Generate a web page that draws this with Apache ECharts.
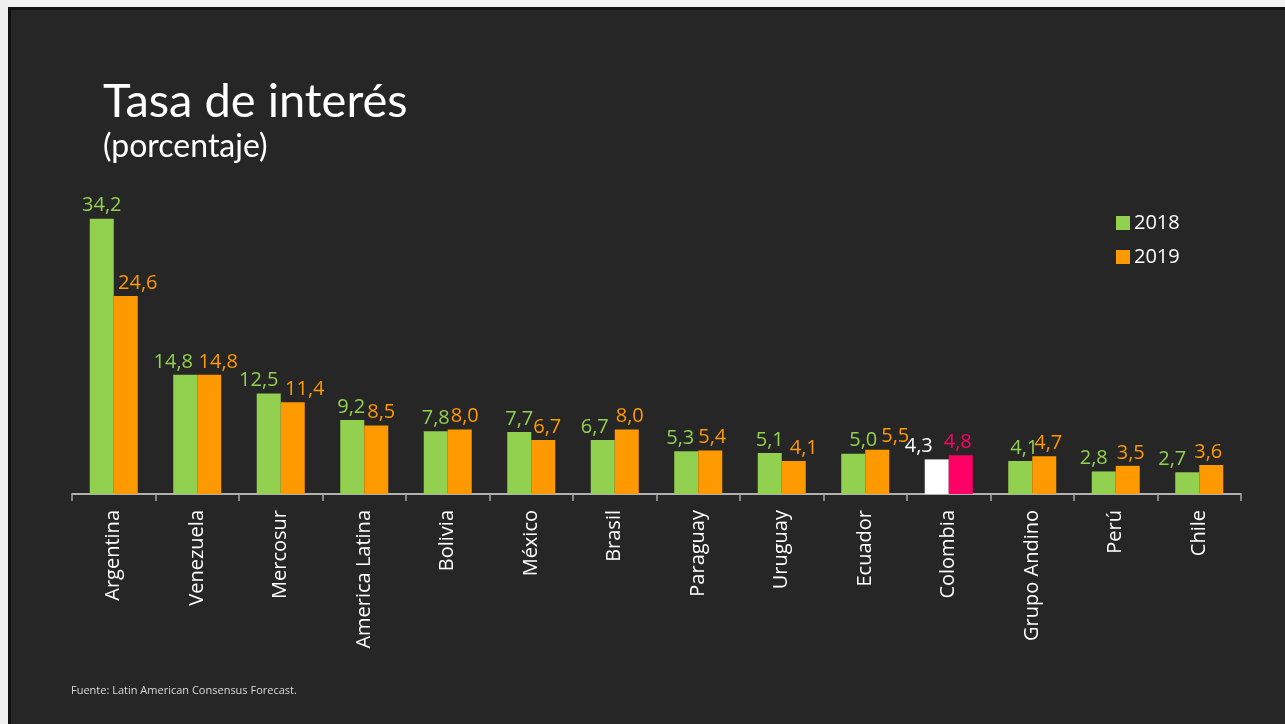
<!DOCTYPE html>
<html>
<head>
<meta charset="utf-8">
<script src="https://cdn.jsdelivr.net/npm/echarts@6/dist/echarts.min.js"></script>
<style>
    html, body { margin: 0; padding: 0; background: #f0f0f0; }
    #frame {
        position: absolute; left: 8px; top: 7px; right: 0; bottom: 0;
        background: #262626;
        border-left: 3px solid #111;
        border-top: 3px solid #111;
    }
    #main { position: absolute; left: 0; top: 0; width: 1285px; height: 724px; }
</style>
</head>
<body>
<div id="frame"></div>
<div id="main"></div>
<script>
    const categories = ['Argentina', 'Venezuela', 'Mercosur', 'America Latina', 'Bolivia', 'México',
        'Brasil', 'Paraguay', 'Uruguay', 'Ecuador', 'Colombia', 'Grupo Andino', 'Perú', 'Chile'];
    const values2018 = [34.2, 14.8, 12.5, 9.2, 7.8, 7.7, 6.7, 5.3, 5.1, 5.0, 4.3, 4.1, 2.8, 2.7];
    const values2019 = [24.6, 14.8, 11.4, 8.5, 8.0, 6.7, 8.0, 5.4, 4.1, 5.5, 4.8, 4.7, 3.5, 3.6];
    const highlight = 'Colombia';

    // horizontal nudges of the value labels, as placed in the original slide
    const nudge2018 = [0, -12, -10, -1, 0, 0, -8, -6, 0, 10, -18, 4, -10, -15];
    const nudge2019 = [12, 9, 12, 5, 5, 4, 3, 2, 10, 18, -3, 4, 3, -3];

    const GREEN = '#92D050', ORANGE = '#FF9900', PINK = '#FF0066', WHITE = '#FFFFFF';
    const FONT = 'Open Sans';

    const fmt = p => p.value.toFixed(1).replace('.', ',');

    function build(values, nudges, color, hiColor) {
        return values.map((v, i) => {
            const c = categories[i] === highlight ? hiColor : color;
            return {
                value: v,
                itemStyle: { color: c },
                label: { color: c, offset: [nudges[i], 0] }
            };
        });
    }

    const chart = echarts.init(document.getElementById('main'));
    chart.setOption({
        backgroundColor: 'transparent',
        animation: false,
        textStyle: { fontFamily: FONT },
        title: [
            {
                text: 'Tasa de interés',
                left: 103, top: 78, padding: 0,
                textStyle: { color: '#fff', fontSize: 47, fontWeight: 'normal', fontFamily: 'Lato' }
            },
            {
                text: '(porcentaje)',
                left: 103, top: 131, padding: 0,
                textStyle: { color: '#fff', fontSize: 32, fontWeight: 'normal', fontFamily: 'Lato' }
            },
            {
                text: 'Fuente: Latin American Consensus Forecast.',
                left: 71, top: 685, padding: 0,
                textStyle: { color: '#d9d9d9', fontSize: 11, fontWeight: 'normal', fontFamily: FONT }
            }
        ],
        legend: {
            orient: 'vertical',
            left: 1116, top: 213, padding: 0,
            itemWidth: 14, itemHeight: 14, itemGap: 14,
            icon: 'rect',
            textStyle: { color: '#fff', fontSize: 20, fontFamily: FONT, padding: [0, 0, 0, -1] },
            data: ['2018', '2019']
        },
        grid: { left: 72, right: 44, top: 172, bottom: 230, containLabel: false },
        xAxis: {
            type: 'category',
            data: categories,
            axisLine: { lineStyle: { color: '#e0e0e0', width: 1.5 } },
            axisTick: { show: true, length: 7, lineStyle: { color: '#a6a6a6', width: 1.5 } },
            axisLabel: {
                rotate: 90, color: '#fff', fontSize: 20, fontFamily: FONT, margin: 16
            }
        },
        yAxis: { type: 'value', min: 0, max: 40, show: false, splitLine: { show: false } },
        series: [
            {
                name: '2018', type: 'bar',
                color: GREEN,
                barGap: '0%', barCategoryGap: '42.5%',
                label: { show: true, position: 'top', distance: 3, fontSize: 20, fontFamily: FONT, formatter: fmt },
                data: build(values2018, nudge2018, GREEN, WHITE)
            },
            {
                name: '2019', type: 'bar',
                color: ORANGE,
                barGap: '0%', barCategoryGap: '42.5%',
                label: { show: true, position: 'top', distance: 3, fontSize: 20, fontFamily: FONT, formatter: fmt },
                data: build(values2019, nudge2019, ORANGE, PINK)
            }
        ]
    });
</script>
</body>
</html>
